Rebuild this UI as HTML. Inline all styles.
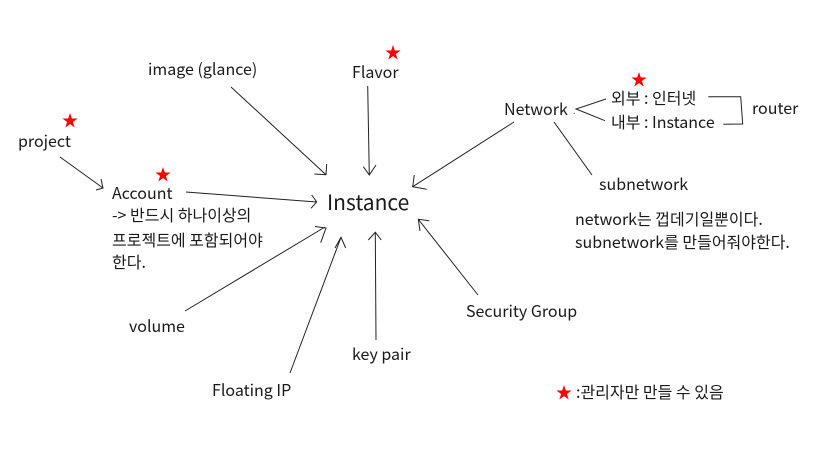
<!DOCTYPE html>
<html><head><meta charset="utf-8"><style>
html,body{margin:0;padding:0;background:#fff}
svg{display:block}
text{font-family:"Noto Sans CJK KR","Liberation Sans",sans-serif;font-size:16px;fill:#1a1a1a}
</style></head><body>
<svg width="836" height="449" viewBox="0 0 836 449" xmlns="http://www.w3.org/2000/svg">
<g fill="none" stroke="#222" stroke-width="1">
<path d="M231 87L326 174.7M314.3 174L326 174.7L326.7 164"/>
<path d="M367.7 86L369.3 175M363.3 166.7L369.3 175L376 165"/>
<path d="M60 157L103 188M101 179L103 188L96 190"/>
<path d="M186 192L316.7 202M311.7 195L316.7 202L311 208.3"/>
<path d="M185 311L325 227M315 226.5L326 228L320.7 242.7"/>
<path d="M290 373L341 237.3M335 248L341 237.3L345.7 248"/>
<path d="M376 340L375.3 232.3M368.3 240L375.3 232.3L381.3 240"/>
<path d="M478 295L418.3 219.3M429.3 220.7L418.3 219.3L420 231"/>
<path d="M514 122L412.7 186.7M414.3 175L412.7 186.7L426.7 189.3"/>
<path d="M554 122L592 175"/>
<path d="M606 99L576 109L605 120.7"/>
<path d="M708.3 96.7H740.7L742.7 124L723.3 124.3"/>
<path d="M574.3 112.8v1"/>
</g>
<text x="148" y="75">image (glance)</text>
<text x="352" y="78">Flavor</text>
<text x="18" y="147">project</text>
<text x="112" y="199">Account</text>
<text x="112" y="221">-&gt; 반드시 하나이상의</text>
<text x="112" y="246">프로젝트에 포함되어야</text>
<text x="112" y="268">한다.</text>
<text x="327" y="210" style="font-size:21px">Instance</text>
<text x="504" y="115">Network</text>
<text x="611" y="104">외부 : 인터넷</text>
<text x="611" y="128">내부 : Instance</text>
<text x="752" y="114">router</text>
<text x="599" y="190">subnetwork</text>
<text x="575" y="225">network는 껍데기일뿐이다.</text>
<text x="575" y="248">subnetwork를 만들어줘야한다.</text>
<text x="129" y="332">volume</text>
<text x="212" y="396">Floating IP</text>
<text x="352" y="360">key pair</text>
<text x="466" y="317">Security Group</text>
<text x="576" y="398">:관리자만 만들 수 있음</text>
<g fill="#f00">
<polygon transform="translate(393 53)" points="0,-8 1.8,-2.5 7.6,-2.5 2.9,1 4.7,6.5 0,3.1 -4.7,6.5 -2.9,1 -7.6,-2.5 -1.8,-2.5"/>
<polygon transform="translate(70 121)" points="0,-8 1.8,-2.5 7.6,-2.5 2.9,1 4.7,6.5 0,3.1 -4.7,6.5 -2.9,1 -7.6,-2.5 -1.8,-2.5"/>
<polygon transform="translate(163 175)" points="0,-8 1.8,-2.5 7.6,-2.5 2.9,1 4.7,6.5 0,3.1 -4.7,6.5 -2.9,1 -7.6,-2.5 -1.8,-2.5"/>
<polygon transform="translate(639 80)" points="0,-8 1.8,-2.5 7.6,-2.5 2.9,1 4.7,6.5 0,3.1 -4.7,6.5 -2.9,1 -7.6,-2.5 -1.8,-2.5"/>
<polygon transform="translate(564 393)" points="0,-8 1.8,-2.5 7.6,-2.5 2.9,1 4.7,6.5 0,3.1 -4.7,6.5 -2.9,1 -7.6,-2.5 -1.8,-2.5"/>
</g>
</svg>
</body></html>
